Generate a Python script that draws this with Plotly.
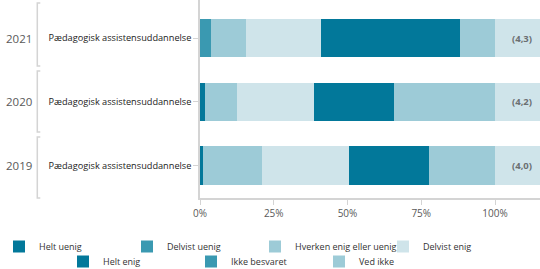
import plotly.graph_objects as go

years = ["2021", "2020", "2019"]
programs = ["Pædagogisk assistensuddannelse"] * 3
categories = ["Helt uenig", "Delvist uenig", "Hverken enig eller uenig", "Delvist enig",
              "Helt enig", "Ikke besvaret", "Ved ikke"]
helt_uenig = [0.0, 1.7, 1.0]
delvist_uenig = [3.7, 0.0, 0.0]
hverken = [11.8, 10.7, 19.9]
delvist_enig = [25.5, 26.3, 29.7]
helt_enig = [47.2, 27.2, 27.0]
ikke_besvaret = [0.0, 0.0, 0.0]
ved_ikke = [11.8, 34.1, 22.4]
means = [4.3, 4.2, 4.0]
x_ticks = [0, 25, 50, 75, 100]
x_ticktext = ["0%", "25%", "50%", "75%", "100%"]

series = [helt_uenig, delvist_uenig, hverken, delvist_enig, helt_enig, ikke_besvaret, ved_ikke]

DARK = "#02789A"
MED = "#3A99B1"
LMID = "#9DCBD7"
LIGHT = "#CFE4EA"
colors = [DARK, MED, LMID, LIGHT, DARK, MED, LMID]
legend_ids = ["legend", "legend", "legend", "legend", "legend2", "legend2", "legend2"]

FONT = "Open Sans"
W, H = 540, 269
ML, MT, MB = 200, 0, 269 - 198      # plot area: x 200..540, y 0..198
PW = W - ML
PH = H - MT - MB
X_MAX = 100 * PW / 295.0            # 100% sits at x = 495

def px(X):   # pixel x -> paper x
    return (X - ML) / PW

def py(Y):   # pixel y -> paper y
    return (PH - (Y - MT)) / PH

# y range so category centres fall at y 38 and 165.5
step = (165.5 - 38) / 2
top_val = -(38 - MT) / step
bot_val = top_val + PH / step

fig = go.Figure()
for name, vals, col, lg in zip(categories, series, colors, legend_ids):
    fig.add_trace(go.Bar(
        y=years, x=vals, name=name, orientation="h",
        marker=dict(color=col, line=dict(width=0)),
        legend=lg,
    ))

# mean box beyond 100%
fig.add_trace(go.Bar(
    y=years, x=[X_MAX - 100] * len(years), orientation="h",
    marker=dict(color=LIGHT, line=dict(width=0)), showlegend=False, hoverinfo="skip",
))

for i, (yr, m) in enumerate(zip(years, means)):
    fig.add_annotation(x=109.3, y=i, xref="x", yref="y",
                       text="<b>(" + f"{m:.1f}".replace(".", ",") + ")</b>",
                       showarrow=False, font=dict(family=FONT, size=9.5, color="#6b6f72"))
    fig.add_annotation(x=px(33.5), y=i, xref="paper", yref="y", xanchor="right",
                       text=yr, showarrow=False,
                       font=dict(family=FONT, size=11.5, color="#595959"))

# group bracket lines on the left
bx = px(37.3)
dx = 3 / PW
for top, bot in [(3, 66), (71, 132), (137, 198)]:
    fig.add_shape(type="path", xref="paper", yref="paper",
                  path=f"M {bx+dx},{py(top)} L {bx},{py(top)} L {bx},{py(bot)} L {bx+dx},{py(bot)}",
                  line=dict(color="#d4d4d4", width=1.5))

fig.update_layout(
    width=W, height=H,
    margin=dict(l=ML, r=0, t=MT, b=MB, pad=0, autoexpand=False),
    barmode="stack", bargap=0.4,
    plot_bgcolor="white", paper_bgcolor="white",
    font=dict(family=FONT, size=9, color="#222"),
    xaxis=dict(range=[0, X_MAX], tickvals=x_ticks, ticktext=x_ticktext,
               showgrid=False, zeroline=False, showline=True, linecolor="#d4d4d4", linewidth=1.5,
               ticks="outside", ticklen=5, tickcolor="#d4d4d4",
               tickfont=dict(family=FONT, size=10, color="#595959")),
    yaxis=dict(type="category", categoryorder="array", categoryarray=years,
               range=[bot_val, top_val],
               tickvals=years, ticktext=programs,
               showgrid=False, zeroline=False, showline=True, linecolor="#d4d4d4", linewidth=1.5,
               ticks="outside", ticklen=5, tickcolor="#d4d4d4",
               tickfont=dict(family=FONT, size=9.2, color="#222")),
    legend=dict(orientation="h", xref="paper", yref="paper", x=px(19 - 20), y=py(246.5),
                xanchor="left", yanchor="middle", entrywidth=83, entrywidthmode="pixels",
                font=dict(family=FONT, size=9, color="#333"), traceorder="normal",
                bgcolor="rgba(0,0,0,0)"),
    legend2=dict(orientation="h", xref="paper", yref="paper", x=px(83 - 20), y=py(261.5),
                 xanchor="left", yanchor="middle", entrywidth=83, entrywidthmode="pixels",
                 font=dict(family=FONT, size=9, color="#333"), traceorder="normal",
                 bgcolor="rgba(0,0,0,0)"),
)

# remove the default page margin so the figure sits at the window origin
fig.write_html("out.html", config={"displayModeBar": False},
               post_script="document.body.style.margin='0';")
